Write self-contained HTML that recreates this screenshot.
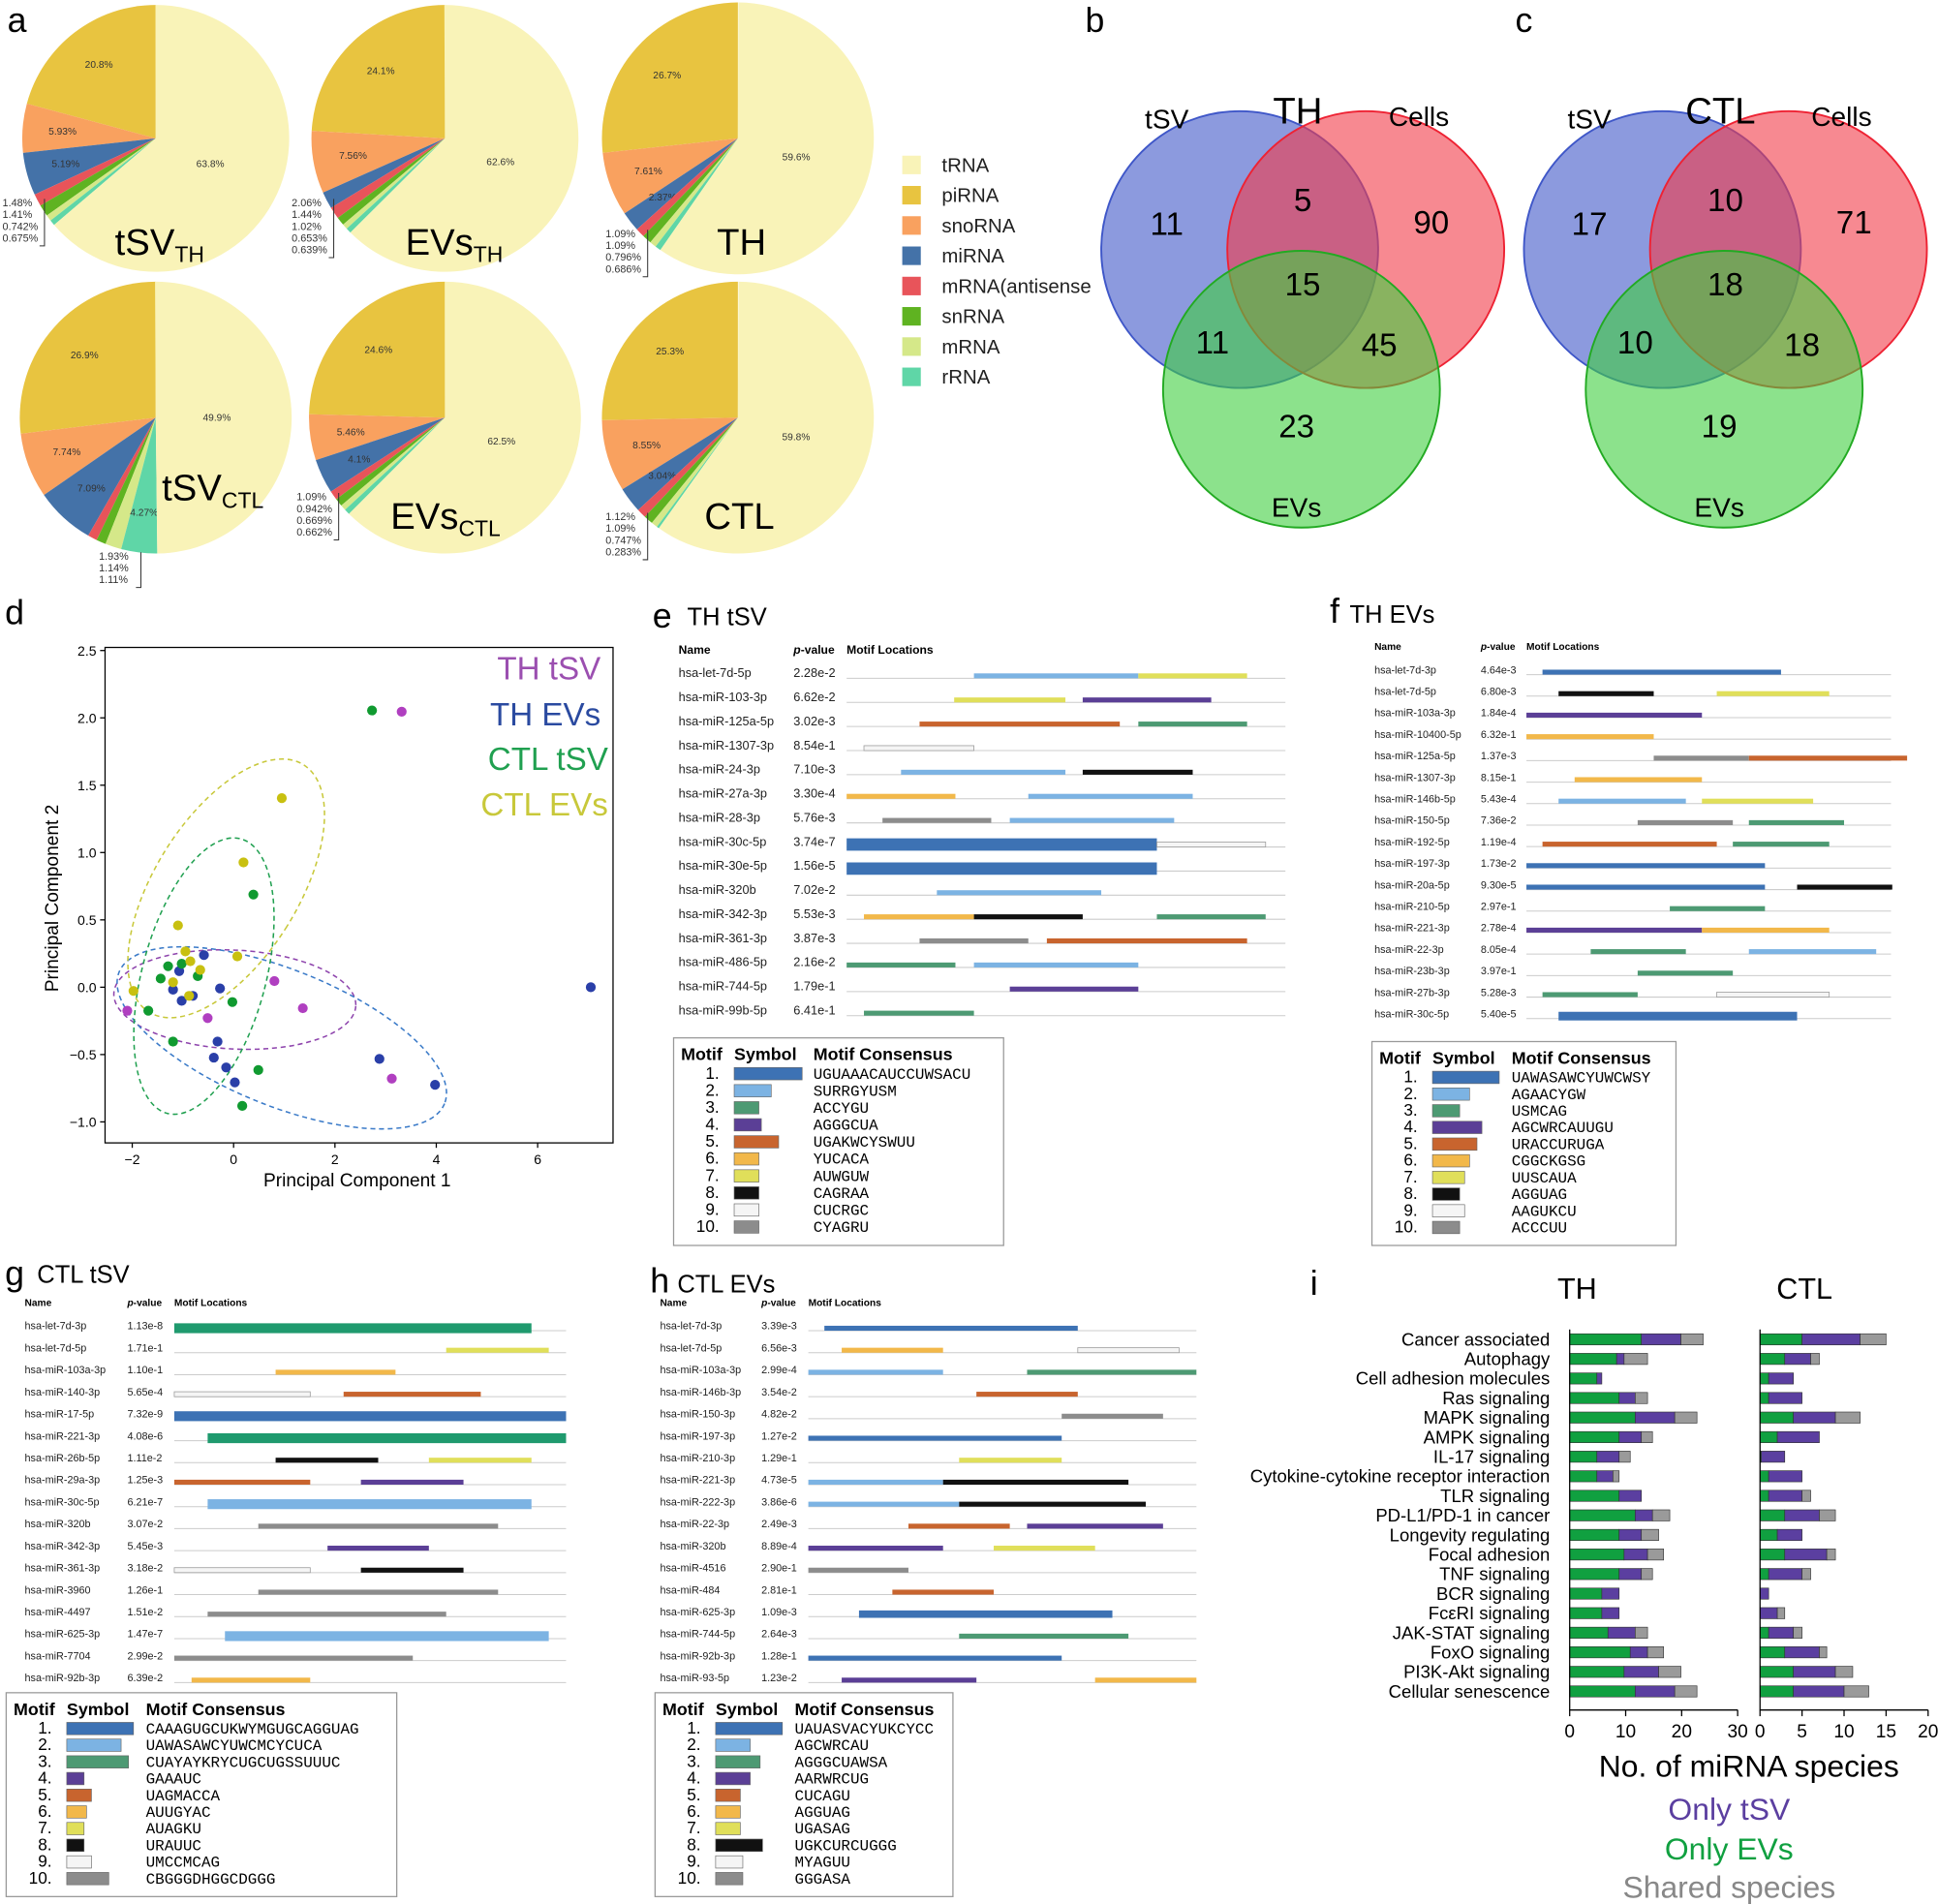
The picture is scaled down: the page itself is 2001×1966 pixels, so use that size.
<!DOCTYPE html>
<html><head><meta charset="utf-8"><style>
html,body{margin:0;padding:0;background:#fff}
svg{display:block;font-family:"Liberation Sans",sans-serif}
.m{font-family:"Liberation Mono",monospace}
</style></head><body>
<svg id="s" width="2001" height="1966" viewBox="0 0 1568 1541" preserveAspectRatio="none" xmlns="http://www.w3.org/2000/svg"></svg>
<script>
var o=[];function T(x,y,t,sz,extra){o.push('<text x="'+x+'" y="'+y+'" font-size="'+sz+'" '+(extra||'')+'>'+t+'</text>');}
function R(x,y,w,h,f,extra){o.push('<rect x="'+x+'" y="'+y+'" width="'+w+'" height="'+h+'" fill="'+f+'" '+(extra||'')+'/>');}
var PC=['#e8c440','#f9a15f','#4472a8','#e8545a','#5fb321','#d5e889','#5fd6a7','#f9f3b8'];
function pie(cx,cy,r,v){var a=0;for(var i=0;i<v.length;i++){var a2=a+v[i]/100*2*Math.PI;
 var x1=cx-r*Math.sin(a),y1=cy-r*Math.cos(a),x2=cx-r*Math.sin(a2),y2=cy-r*Math.cos(a2);
 o.push('<path d="M'+cx+','+cy+'L'+x1+','+y1+'A'+r+','+r+' 0 '+(a2-a>Math.PI?1:0)+',0 '+x2+','+y2+'Z" fill="'+PC[i]+'"/>');
 if(v[i]>2.2){var m=(a+a2)/2,rr=i==7?0.45:0.7;T(cx-rr*r*Math.sin(m),cy-rr*r*Math.cos(m)+3,v[i]+'%',8,'text-anchor="middle" fill="#333"');}
 a=a2;}}
function small(x,y,arr){for(var i=0;i<arr.length;i++)T(x,y+i*9.5,arr[i]+'%',8.5,'fill="#333"');o.push('<path d="M'+(x+34)+','+(y-6)+'V'+(y+arr.length*9.5-6)+'h-4" stroke="#333" fill="none" stroke-width="0.8"/>');}
pie(126,112,108,[20.8,5.93,5.19,1.48,1.41,0.742,0.675,63.8]);small(2,167,['1.48','1.41','0.742','0.675']);
pie(360,112,108,[24.1,7.56,2.06,1.44,1.02,0.653,0.639,62.6]);small(236,167,['2.06','1.44','1.02','0.653','0.639']);
pie(597,112,110,[26.7,7.61,2.37,1.09,1.09,0.796,0.686,59.6]);small(490,192,['1.09','1.09','0.796','0.686']);
pie(126,338,110,[26.9,7.74,7.09,1.11,1.14,1.93,4.27,49.9]);small(80,453,['1.93','1.14','1.11']);
pie(360,338,110,[24.6,5.46,4.1,1.09,0.942,0.669,0.662,62.5]);small(240,405,['1.09','0.942','0.669','0.662']);
pie(597,338,110,[25.3,8.55,3.04,1.12,1.09,0.747,0.283,59.8]);small(490,421,['1.12','1.09','0.747','0.283']);
T(93,206,'tSV<tspan font-size="18" dy="6">TH</tspan>',30);T(328,206,'EVs<tspan font-size="18" dy="6">TH</tspan>',30);T(580,206,'TH',30);
T(131,405,'tSV<tspan font-size="18" dy="6">CTL</tspan>',30);T(316,428,'EVs<tspan font-size="18" dy="6">CTL</tspan>',30);T(570,428,'CTL',30);
var LN=['tRNA','piRNA','snoRNA','miRNA','mRNA(antisense','snRNA','mRNA','rRNA'],LC=[7,0,1,2,3,4,5,6];
for(var i=0;i<8;i++){R(730,126+i*24.5,15,15,PC[LC[i]]);T(762,139+i*24.5,LN[i],16,'fill="#222"');}
T(6,26,'a',28);T(878,26,'b',28);T(1226,26,'c',28);T(4,505,'d',28);
function venn(dx,L,n){o.push('<circle cx="'+(1003+dx)+'" cy="202" r="112" fill="#3f57c8" fill-opacity=".6" stroke="#3f57c8" stroke-width="1.5"/>');
o.push('<circle cx="'+(1105+dx)+'" cy="202" r="112" fill="#f23a48" fill-opacity=".6" stroke="#e23" stroke-width="1.5"/>');
o.push('<circle cx="'+(1053+dx)+'" cy="315" r="112" fill="#3fcf3f" fill-opacity=".6" stroke="#2a2" stroke-width="1.5"/>');
T(944+dx,104,'tSV',22,'text-anchor="middle"');T(1050+dx,100,L,30,'text-anchor="middle"');T(1148+dx,102,'Cells',22,'text-anchor="middle"');T(1049+dx,418,'EVs',22,'text-anchor="middle"');
var P=[[944,190],[1054,171],[1158,189],[1054,239],[981,286],[1116,288],[1049,354]];for(var i=0;i<7;i++)T(P[i][0]+dx,P[i][1],n[i],26,'text-anchor="middle"');}
venn(0,'TH',[11,5,90,15,11,45,23]);venn(342,'CTL',[17,10,71,18,10,18,19]);
// PCA
R(85,524,411,401,'none','stroke="#000" stroke-width="1"');
[-2,0,2,4,6].forEach(function(v){var x=189+41*v;o.push('<line x1="'+x+'" y1="925" x2="'+x+'" y2="929" stroke="#000"/>');T(x,942,v<0?'−'+(-v):v,11,'text-anchor="middle"');});
[2.5,2.0,1.5,1.0,0.5,0.0,-0.5,-1.0].forEach(function(v){var y=799-109*v;o.push('<line x1="81" y1="'+y+'" x2="85" y2="'+y+'" stroke="#000"/>');T(78,y+4,(v<0?'−':'')+Math.abs(v).toFixed(1),11,'text-anchor="end"');});
T(289,960,'Principal Component 1',15,'text-anchor="middle"');T(47,727,'Principal Component 2',15,'text-anchor="middle" transform="rotate(-90 47 727)"');
function el(cx,cy,rx,ry,rot,c){o.push('<ellipse cx="'+cx+'" cy="'+cy+'" rx="'+rx+'" ry="'+ry+'" transform="rotate('+rot+' '+cx+' '+cy+')" fill="none" stroke="'+c+'" stroke-dasharray="4,3" stroke-width="1.2"/>');}
el(190,809,98,40,3,'#8e44ad');el(228,840,142,55,22,'#3a7ac8');el(165,790,50,115,15,'#20a050');el(183,719,58,118,32,'#c8c83a');
function pts(c,a){a.forEach(function(p){o.push('<circle cx="'+p[0]+'" cy="'+p[1]+'" r="4" fill="'+c+'"/>');});}
pts('#b03fc0',[[325,576],[222,794],[245,816],[168,824],[103,818],[317,873]]);
pts('#2a3fa8',[[478,799],[140,801],[147,810],[145,786],[156,806],[173,856],[176,843],[183,864],[190,876],[307,857],[352,878],[165,773],[178,800]]);
pts('#109a30',[[301,575],[205,724],[136,782],[147,780],[160,790],[120,818],[140,843],[209,866],[196,895],[188,811],[130,792]]);
pts('#c8c010',[[228,646],[197,698],[144,749],[192,774],[108,802],[140,795],[150,770],[154,778],[162,785],[153,806]]);
T(486,550,'TH tSV',26,'text-anchor="end" fill="#9b4fb0"');T(486,587,'TH EVs',26,'text-anchor="end" fill="#2a4aa0"');T(492,623,'CTL tSV',26,'text-anchor="end" fill="#20a050"');T(492,660,'CTL EVs',26,'text-anchor="end" fill="#c8c83a"');
// motif panels
var C={bl:'#3d72b4',lb:'#7cb3e3',gr:'#4d9a73',pu:'#5b3f96',or:'#c8642e',go:'#f2b84a',ye:'#e0df5a',bk:'#111',wh:'#f5f5f5',gy:'#8c8c8c',tg:'#1f9a6e'};
function motif(nx,px,mx,mx2,y0,dy,rows,fs){T(nx,y0-16,'Name',fs,'font-weight="bold"');T(px,y0-16,'<tspan font-style="italic">p</tspan>-value',fs,'font-weight="bold"');T(mx,y0-16,'Motif Locations',fs,'font-weight="bold"');
rows.forEach(function(r,i){var y=y0+i*dy;T(nx,y+3,r[0],fs+0.5,'fill="#222"');T(px,y+3,r[1],fs+0.5,'fill="#222"');o.push('<line x1="'+mx+'" y1="'+(y+4)+'" x2="'+mx2+'" y2="'+(y+4)+'" stroke="#ccc" stroke-width="0.8"/>');
for(var j=2;j<r.length;j++){var s=r[j],h=s[3]||4;R(s[0],y+2-h/2,s[1]-s[0],h,C[s[2]],s[2]=='wh'?'stroke="#999" stroke-width="0.6"':'');}});}
function leg(x,y,w,h,cons,sw,fs){R(x,y,w,h,'#fff','stroke="#999"');T(x+6,y+18,'Motif',fs,'font-weight="bold"');T(x+49,y+18,'Symbol',fs,'font-weight="bold"');T(x+113,y+18,'Motif Consensus',fs,'font-weight="bold"');
var K=['bl','lb','gr','pu','or','go','ye','bk','wh','gy'];var st=(h-26)/10.3;
for(var i=0;i<10;i++){var yy=y+33+i*st;T(x+37,yy,(i+1)+'.',fs-0.5,'text-anchor="end"');R(x+49,yy-9,sw[i],10,C[K[i]],'stroke="#666" stroke-width="0.5"');T(x+113,yy,cons[i],fs-1.5,'class="m"');}}
T(528,508,'e',28);T(556,506,'TH tSV',20);
motif(549,642,685,1040,545,19.5,[['hsa-let-7d-5p','2.28e-2',[788,921,'lb'],[921,1009,'ye']],['hsa-miR-103-3p','6.62e-2',[772,862,'ye'],[876,980,'pu']],['hsa-miR-125a-5p','3.02e-3',[744,906,'or'],[921,1009,'gr']],['hsa-miR-1307-3p','8.54e-1',[699,788,'wh']],['hsa-miR-24-3p','7.10e-3',[729,862,'lb'],[876,965,'bk']],['hsa-miR-27a-3p','3.30e-4',[685,773,'go'],[832,965,'lb']],['hsa-miR-28-3p','5.76e-3',[714,802,'gy'],[817,950,'lb']],['hsa-miR-30c-5p','3.74e-7',[685,936,'bl',10],[936,1024,'wh']],['hsa-miR-30e-5p','1.56e-5',[685,936,'bl',10]],['hsa-miR-320b','7.02e-2',[758,891,'lb']],['hsa-miR-342-3p','5.53e-3',[699,788,'go'],[788,876,'bk'],[936,1024,'gr']],['hsa-miR-361-3p','3.87e-3',[744,832,'gy'],[847,1009,'or']],['hsa-miR-486-5p','2.16e-2',[685,773,'gr'],[788,921,'lb']],['hsa-miR-744-5p','1.79e-1',[817,921,'pu']],['hsa-miR-99b-5p','6.41e-1',[699,788,'gr']]],9.5);
leg(545,840,267,168,['UGUAAACAUCCUWSACU','SURRGYUSM','ACCYGU','AGGGCUA','UGAKWCYSWUU','YUCACA','AUWGUW','CAGRAA','CUCRGC','CYAGRU'],[55,30,20,22,36,20,20,20,20,20],14);
T(1076,504,'f',28);T(1092,504,'TH EVs',20);
motif(1112,1198,1235,1530,542,17.4,[['hsa-let-7d-3p','4.64e-3',[1248,1441,'bl']],['hsa-let-7d-5p','6.80e-3',[1261,1338,'bk'],[1389,1480,'ye']],['hsa-miR-103a-3p','1.84e-4',[1235,1377,'pu']],['hsa-miR-10400-5p','6.32e-1',[1235,1338,'go']],['hsa-miR-125a-5p','1.37e-3',[1338,1415,'gy'],[1415,1543,'or']],['hsa-miR-1307-3p','8.15e-1',[1274,1377,'go']],['hsa-miR-146b-5p','5.43e-4',[1261,1364,'lb'],[1377,1467,'ye']],['hsa-miR-150-5p','7.36e-2',[1325,1402,'gy'],[1415,1492,'gr']],['hsa-miR-192-5p','1.19e-4',[1248,1389,'or'],[1402,1480,'gr']],['hsa-miR-197-3p','1.73e-2',[1235,1428,'bl']],['hsa-miR-20a-5p','9.30e-5',[1235,1428,'bl'],[1454,1531,'bk']],['hsa-miR-210-5p','2.97e-1',[1351,1428,'gr']],['hsa-miR-221-3p','2.78e-4',[1235,1377,'pu'],[1377,1480,'go']],['hsa-miR-22-3p','8.05e-4',[1287,1364,'gr'],[1415,1518,'lb']],['hsa-miR-23b-3p','3.97e-1',[1325,1402,'gr']],['hsa-miR-27b-3p','5.28e-3',[1248,1325,'gr'],[1389,1480,'wh']],['hsa-miR-30c-5p','5.40e-5',[1261,1454,'bl',7]]],8);
leg(1110,843,246,165,['UAWASAWCYUWCWSY','AGAACYGW','USMCAG','AGCWRCAUUGU','URACCURUGA','CGGCKGSG','UUSCAUA','AGGUAG','AAGUKCU','ACCCUU'],[54,30,22,40,36,30,26,22,26,22],14);
T(4,1040,'g',28);T(30,1038,'CTL tSV',20);
motif(20,103,141,458,1073,17.8,[['hsa-let-7d-3p','1.13e-8',[141,430,'tg',8]],['hsa-let-7d-5p','1.71e-1',[361,444,'ye']],['hsa-miR-103a-3p','1.10e-1',[223,320,'go']],['hsa-miR-140-3p','5.65e-4',[141,251,'wh'],[278,389,'or']],['hsa-miR-17-5p','7.32e-9',[141,458,'bl',8]],['hsa-miR-221-3p','4.08e-6',[168,458,'tg',8]],['hsa-miR-26b-5p','1.11e-2',[223,306,'bk'],[347,430,'ye']],['hsa-miR-29a-3p','1.25e-3',[141,251,'or'],[292,375,'pu']],['hsa-miR-30c-5p','6.21e-7',[168,430,'lb',8]],['hsa-miR-320b','3.07e-2',[209,403,'gy']],['hsa-miR-342-3p','5.45e-3',[265,347,'pu']],['hsa-miR-361-3p','3.18e-2',[141,251,'wh'],[292,375,'bk']],['hsa-miR-3960','1.26e-1',[209,403,'gy']],['hsa-miR-4497','1.51e-2',[168,361,'gy']],['hsa-miR-625-3p','1.47e-7',[182,444,'lb',8]],['hsa-miR-7704','2.99e-2',[141,334,'gy']],['hsa-miR-92b-3p','6.39e-2',[155,251,'go']]],8);
leg(5,1370,316,165,['CAAAGUGCUKWYMGUGCAGGUAG','UAWASAWCYUWCMCYCUCA','CUAYAYKRYCUGCUGSSUUUC','GAAAUC','UAGMACCA','AUUGYAC','AUAGKU','URAUUC','UMCCMCAG','CBGGGDHGGCDGGG'],[54,44,50,14,20,16,14,14,20,34],14);
T(526,1046,'h',28);T(548,1046,'CTL EVs',20);
motif(534,616,654,968,1073,17.8,[['hsa-let-7d-3p','3.39e-3',[667,872,'bl']],['hsa-let-7d-5p','6.56e-3',[681,763,'go'],[872,954,'wh']],['hsa-miR-103a-3p','2.99e-4',[654,763,'lb'],[831,968,'gr']],['hsa-miR-146b-3p','3.54e-2',[790,872,'or']],['hsa-miR-150-3p','4.82e-2',[859,941,'gy']],['hsa-miR-197-3p','1.27e-2',[654,859,'bl']],['hsa-miR-210-3p','1.29e-1',[776,859,'ye']],['hsa-miR-221-3p','4.73e-5',[654,763,'lb'],[763,913,'bk']],['hsa-miR-222-3p','3.86e-6',[654,776,'lb'],[776,927,'bk']],['hsa-miR-22-3p','2.49e-3',[735,817,'or'],[831,941,'pu']],['hsa-miR-320b','8.89e-4',[654,763,'pu'],[804,886,'ye']],['hsa-miR-4516','2.90e-1',[654,735,'gy']],['hsa-miR-484','2.81e-1',[722,804,'or']],['hsa-miR-625-3p','1.09e-3',[695,900,'bl',6]],['hsa-miR-744-5p','2.64e-3',[776,913,'gr']],['hsa-miR-92b-3p','1.28e-1',[654,859,'bl']],['hsa-miR-93-5p','1.23e-2',[681,790,'pu'],[886,968,'go']]],8);
leg(530,1370,241,165,['UAUASVACYUKCYCC','AGCWRCAU','AGGGCUAWSA','AARWRCUG','CUCAGU','AGGUAG','UGASAG','UGKCURCUGGG','MYAGUU','GGGASA'],[54,28,36,28,20,20,20,38,22,22],14);
// panel i
T(1060,1048,'i',28);T(1276,1051,'TH',24,'text-anchor="middle"');T(1460,1051,'CTL',24,'text-anchor="middle"');
var N=['Cancer associated','Autophagy','Cell adhesion molecules','Ras signaling','MAPK signaling','AMPK signaling','IL-17 signaling','Cytokine-cytokine receptor interaction','TLR signaling','PD-L1/PD-1 in cancer','Longevity regulating','Focal adhesion','TNF signaling','BCR signaling','Fc&#949;RI signaling','JAK-STAT signaling','FoxO signaling','PI3K-Akt signaling','Cellular senescence'];
var TH=[[1328,1360,1378],[1308,1314,1333],[1292,1296,0],[1310,1323,1333],[1323,1355,1373],[1310,1328,1337],[1292,1310,1319],[1292,1305,1310],[1310,1328,0],[1323,1337,1351],[1310,1328,1342],[1314,1333,1346],[1310,1328,1337],[1296,1310,0],[1296,1310,0],[1301,1323,1333],[1319,1333,1346],[1314,1342,1360],[1323,1355,1373]];
var CT=[[1458,1505,1526],[1444,1465,1472],[1431,1451,0],[1431,1458,0],[1451,1485,1505],[1438,1472,0],[1425,1444,0],[1431,1458,0],[1431,1458,1465],[1444,1472,1485],[1438,1458,0],[1444,1478,1485],[1431,1458,1465],[1424,1431,0],[1424,1438,1444],[1431,1451,1458],[1444,1472,1478],[1451,1485,1499],[1451,1492,1512]];
function bars(x0,b,y){var cols=['#10a040','#5b3fa0','#9a9a9a'],p=x0;for(var k=0;k<3;k++){if(b[k]>p){R(p,y-4.5,b[k]-p,9,cols[k],'stroke="#333" stroke-width="0.5"');p=b[k];}}}
for(var i=0;i<19;i++){var y=1084+i*15.83;T(1254,y+5,N[i],14.5,'text-anchor="end"');bars(1270,TH[i],y);bars(1424,CT[i],y);}
o.push('<path d="M1270,1076V1384H1406M1424,1076V1384H1560" stroke="#000" fill="none"/>');
[0,10,20,30].forEach(function(v){var x=1270+v*4.53;o.push('<line x1="'+x+'" y1="1384" x2="'+x+'" y2="1389" stroke="#000"/>');T(x,1406,v,15,'text-anchor="middle"');});
[0,5,10,15,20].forEach(function(v){var x=1424+v*6.8;o.push('<line x1="'+x+'" y1="1384" x2="'+x+'" y2="1389" stroke="#000"/>');T(x,1406,v,15,'text-anchor="middle"');});
T(1415,1438,'No. of miRNA species',25,'text-anchor="middle"');
T(1399,1473,'Only tSV',25,'text-anchor="middle" fill="#5b3fa0"');T(1399,1505,'Only EVs',25,'text-anchor="middle" fill="#10a040"');T(1399,1536,'Shared species',25,'text-anchor="middle" fill="#888"');
document.getElementById('s').innerHTML=o.join('');
</script>
</body></html>
